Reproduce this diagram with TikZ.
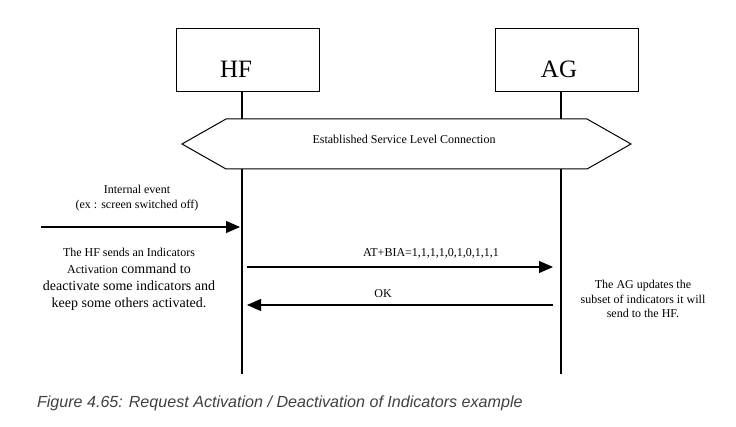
\documentclass[tikz,border=0pt]{standalone}
\usepackage{fontspec}
\setmainfont{Liberation Serif}
\setsansfont{Liberation Sans}
\usetikzlibrary{arrows.meta,calc,positioning}
\tikzset{
	sequence chart/.style={
		x=1pt, y=-1pt,
		line width=1pt,
		every node/.style={inner sep=0pt, outer sep=0pt}},
	entity/.style={draw, line width=1pt, minimum width=143pt, minimum height=63pt},
	entity name/.style={anchor=base, font=\fontsize{25}{28}\selectfont},
	lifeline/.style={line width=1.2pt},
	slc box/.style={draw, fill=white, line width=1pt, line join=miter},
	msg/.style={-{Triangle[length=14pt,width=12pt]}, line width=1.1pt},
	note/.style={align=center, font=\fontsize{12}{14.5}\selectfont},
	caption/.style={anchor=base west, text=black!75, font=\sffamily\itshape\fontsize{16.1}{19}\selectfont}
}

\begin{document}
\begin{tikzpicture}[sequence chart]
	\useasboundingbox (0,0) rectangle (736,427);
	% entities and lifelines
	\node[entity] (HF) at (247.5,60.5) {};
	\node[entity] (AG) at (566.5,60.5) {};
	\node[entity name] (HF name) at (236,78) {HF};
	\node[entity name] (AG name) at (559,78) {AG};
	\coordinate (HF end) at (242,374);
	\coordinate (AG end) at (561,374);
	\draw[lifeline] (HF.south -| HF end) -- (HF end);
	\draw[lifeline] (AG.south -| AG end) -- (AG end);
	% service level connection
	\draw[slc box] (182,144) -- (226,119) -- (587,119) -- (631,144) -- (587,169) -- (226,169) -- cycle;
	\node[note] (slc) at (404,139) {Established Service Level Connection};
	% messages
	\coordinate (event) at (41,227);
	\coordinate (bia) at (0,267);
	\coordinate (ok) at (0,305);
	\draw[msg, shorten >=2pt] (event) -- (event -| HF end);
	\draw[msg, shorten <=5pt, shorten >=8pt] (HF end |- bia) -- (AG end |- bia);
	\draw[msg, shorten <=8pt, shorten >=5pt] (AG end |- ok) -- (HF end |- ok);
	\node[note, anchor=base] (bia label) at (431,257) {AT+BIA=1,1,1,1,0,1,0,1,1,1};
	\node[note, anchor=base] (ok label) at (383,298) {OK};
	% notes
	\node[note] (event text) at (137,198) {Internal event\\(ex : screen switched off)};
	\node[note, font=\fontsize{14}{17}\selectfont] (hf text) at (129,279)
		{{\fontsize{12}{14}\selectfont The HF sends an Indicators}\\
		 {\fontsize{12}{14}\selectfont Activation} command to\\
		 deactivate some indicators and\\
		 keep some others activated.};
	\node[note] (ag text) at (643,299) {The AG updates the\\subset of indicators it will\\send to the HF.};
	\node[caption] (caption) at (37,407) {Figure 4.65: Request Activation / Deactivation of Indicators example};
\end{tikzpicture}
\end{document}
